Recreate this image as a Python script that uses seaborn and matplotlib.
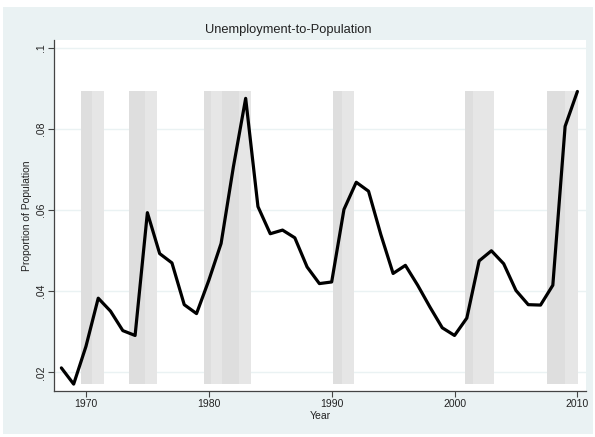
import numpy as np
import pandas as pd
import matplotlib
matplotlib.use("Agg")
import matplotlib.pyplot as plt
import seaborn as sns

# annual unemployment-to-population ratio
years = list(range(1968, 2011))
ratio = [0.0211, 0.0171, 0.0264, 0.0383, 0.0351, 0.0303, 0.0291, 0.0594,
         0.0493, 0.0470, 0.0367, 0.0345, 0.0427, 0.0518, 0.0707, 0.0876,
         0.0609, 0.0542, 0.0551, 0.0532, 0.0460, 0.0419, 0.0423, 0.0602,
         0.0669, 0.0647, 0.0540, 0.0444, 0.0464, 0.0415, 0.0361, 0.0310,
         0.0291, 0.0334, 0.0475, 0.0500, 0.0468, 0.0402, 0.0367, 0.0366,
         0.0415, 0.0807, 0.0893]

# recession shading (two tones per episode)
dark_spans = [(1969.56, 1970.49), (1973.50, 1974.77), (1979.60, 1980.15),
              (1981.09, 1982.47), (1990.13, 1990.80), (2000.83, 2001.51),
              (2007.54, 2009.00)]
light_spans = [(1970.49, 1971.43), (1974.77, 1975.78), (1980.15, 1981.09),
               (1982.47, 1983.45), (1990.80, 1991.81), (2001.51, 2003.20),
               (2009.00, 2010.03)]

xticks = [1970, 1980, 1990, 2000, 2010]
yticks = [0.02, 0.04, 0.06, 0.08, 0.1]
ytick_labels = [".02", ".04", ".06", ".08", ".1"]

df = pd.DataFrame({"Year": years, "ratio": ratio})

sns.set_theme(style="white")
plt.rcParams["font.family"] = ["Liberation Sans", "DejaVu Sans"]

bg = "#eaf2f3"
fig = plt.figure(figsize=(5.95, 4.37), dpi=100, facecolor="white")
fig.patches.append(plt.Rectangle((3 / 595, 3 / 437), 590 / 595, 427 / 437,
                                 transform=fig.transFigure, facecolor=bg,
                                 edgecolor="none", zorder=-10))
ax = fig.add_axes([54 / 595, 46 / 437, 532 / 595, 351 / 437])
ax.set_facecolor("white")

lo, hi = min(ratio), max(ratio)
for a, b in dark_spans:
    ax.fill_between([a, b], lo, hi, color="#dedede", lw=0, zorder=1)
for a, b in light_spans:
    ax.fill_between([a, b], lo, hi, color="#e6e6e6", lw=0, zorder=1)

sns.lineplot(data=df, x="Year", y="ratio", color="black", linewidth=2.3,
             ax=ax, zorder=3)

ax.set_xlim(1967.4, 2010.7)
ax.set_ylim(0.0154, 0.102)
ax.set_xticks(xticks)
ax.set_xticklabels([str(t) for t in xticks])
ax.set_yticks(yticks)
ax.set_yticklabels(ytick_labels, rotation=90, va="center")
for y in yticks:
    ax.axhline(y, color=bg, lw=1.0, zorder=0.5)

for s in ["top", "right"]:
    ax.spines[s].set_visible(False)
for s in ["left", "bottom"]:
    ax.spines[s].set_color("#444444")
    ax.spines[s].set_linewidth(0.9)
ax.tick_params(axis="both", direction="out", length=4, width=0.8,
               color="#444444", labelsize=7.5, labelcolor="#222222", pad=2)
ax.tick_params(axis="x", bottom=True)
ax.tick_params(axis="y", left=True)

ax.set_xlabel("Year", fontsize=7.5, color="#222222", labelpad=1)
ax.set_ylabel("Proportion of Population", fontsize=7.5, color="#222222",
              labelpad=3)
fig.text(288.5 / 595, 1 - 30 / 437, "Unemployment-to-Population",
         ha="center", va="center", fontsize=9.3, color="#222222")

fig.savefig("out.png", dpi=100, facecolor="white")
